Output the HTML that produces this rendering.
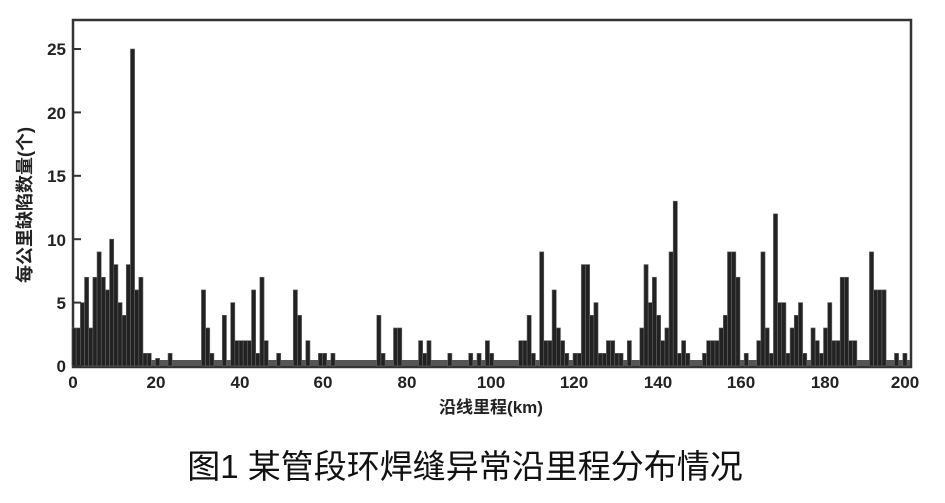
<!DOCTYPE html>
<html><head><meta charset="utf-8"><style>
html,body{margin:0;padding:0;background:#fff;}
svg{display:block;}
text{font-family:"Liberation Sans","Noto Sans CJK SC",sans-serif;font-weight:bold;fill:#222;}
</style></head><body>
<svg id="s" width="945" height="503" viewBox="0 0 945 503" xmlns="http://www.w3.org/2000/svg">
<rect x="73" y="20" width="838" height="347" fill="#fff" stroke="#333" stroke-width="2.5"/>
<g id="bars"></g>
<g id="ticks" stroke="#333" stroke-width="2"></g>
<g font-size="17" text-anchor="end">
<text x="66" y="372">0</text><text x="66" y="309">5</text><text x="66" y="246">10</text>
<text x="66" y="182">15</text><text x="66" y="119">20</text><text x="66" y="55">25</text>
</g>
<g font-size="17" text-anchor="middle">
<text x="73" y="388">0</text><text x="156" y="388">20</text><text x="240" y="388">40</text>
<text x="323" y="388">60</text><text x="407" y="388">80</text><text x="491" y="388">100</text>
<text x="574" y="388">120</text><text x="658" y="388">140</text><text x="741" y="388">160</text>
<text x="825" y="388">180</text><text x="905" y="388">200</text>
</g>
<text x="491" y="413" font-size="17" text-anchor="middle">沿线里程(km)</text>
<text transform="translate(31,205) rotate(-90)" font-size="18" text-anchor="middle">每公里缺陷数量(个)</text>
<text x="465" y="478" font-size="33" text-anchor="middle" style="font-weight:normal;fill:#111">图1  某管段环焊缝异常沿里程分布情况</text>
</svg>
<script>
var d={0:3,1:3,2:5,3:7,4:3,5:7,6:9,7:7,8:6,9:10,10:8,11:5,12:4,13:8,14:25,15:6,16:7,17:1,18:1,20:0.6,23:1,31:6,32:3,33:1,36:4,38:5,39:2,40:2,41:2,42:2,43:6,44:1,45:7,46:2,49:1,53:6,54:4,56:2,59:1,60:1,62:1,
73:4,74:1,77:3,78:3,83:2,84:1,85:2,90:1,95:1,97:1,99:2,100:1,
107:2,108:2,109:4,110:1,112:9,113:2,114:2,115:6,116:3,117:2,118:1,120:1,121:1,122:8,123:8,124:4,125:5,126:1,127:1,128:2,129:2,130:1,131:1,133:2,136:3,137:8,138:5,139:7,140:4,141:2,142:3,143:9,144:13,145:1,146:2,147:1,151:1,152:2,153:2,154:2,155:3,156:4,157:9,158:9,159:7,161:1,164:2,165:9,166:3,167:1,168:12,169:5,170:5,171:1,172:3,173:4,174:5,175:1,177:3,178:2,179:1,180:3,181:5,182:2,183:2,184:7,185:7,186:2,187:2,191:9,192:6,193:6,194:6,197:1,199:1};
var ns="http://www.w3.org/2000/svg",g=document.getElementById('bars'),t=document.getElementById('ticks');
function r(x,y,w,h,f,s){var e=document.createElementNS(ns,'rect');e.setAttribute('x',x);e.setAttribute('y',y);e.setAttribute('width',w);e.setAttribute('height',h);e.setAttribute('fill',f);if(s){e.setAttribute('stroke',s);e.setAttribute('stroke-width','0.6');}g.appendChild(e);}
r(74,360,836,6,'#555');
var k=4.175,u=12.68;
for(var i in d){var v=d[i];var x=72+i*k;r(x,366-v*u,k,v*u,'#222','#666');}
function l(x1,y1,x2,y2){var e=document.createElementNS(ns,'line');e.setAttribute('x1',x1);e.setAttribute('y1',y1);e.setAttribute('x2',x2);e.setAttribute('y2',y2);t.appendChild(e);}
for(var j=0;j<=5;j++){var y=366-j*5*u;l(73,y,81,y);}
</script>
</body></html>
